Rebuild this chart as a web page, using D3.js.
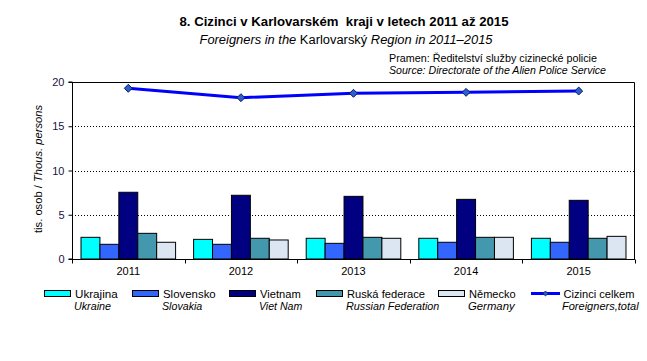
<!DOCTYPE html>
<html>
<head>
<meta charset="utf-8">
<script src="https://cdn.jsdelivr.net/npm/d3@7"></script>
<style>
  body { margin: 0; background: #fff; }
  text { font-family: "Liberation Sans", Arial, sans-serif; }
</style>
</head>
<body>
<div id="chart"></div>
<script>
// data (thousands of persons)
var years = ["2011", "2012", "2013", "2014", "2015"];
var ukrajina = [2.45, 2.22, 2.34, 2.34, 2.34];
var slovensko = [1.66, 1.66, 1.77, 1.89, 1.89];
var vietnam = [7.54, 7.2, 7.08, 6.74, 6.63];
var ruska = [2.9, 2.34, 2.45, 2.45, 2.34];
var nemecko = [1.89, 2.15, 2.34, 2.45, 2.56];
var celkem = [19.29, 18.23, 18.72, 18.83, 18.98];
var yTicks = [0, 5, 10, 15, 20];

var series = [
  {name: "Ukrajina", en: "Ukraine", values: ukrajina, color: "#00ffff"},
  {name: "Slovensko", en: "Slovakia", values: slovensko, color: "#3366ff"},
  {name: "Vietnam", en: "Viet Nam", values: vietnam, color: "#000080"},
  {name: "Ruská federace", en: "Russian Federation", values: ruska, color: "#4398ae"},
  {name: "Německo", en: "Germany", values: nemecko, color: "#dce6f2"}
];

var W = 647, H = 361;
var margin = {top: 82, right: 12, bottom: 102, left: 72};
var width = W - margin.left - margin.right,
    height = H - margin.top - margin.bottom;

var svg = d3.select("#chart").append("svg")
  .attr("width", W).attr("height", H);

// titles
svg.append("text")
  .attr("x", 344).attr("y", 26)
  .attr("text-anchor", "middle")
  .attr("textLength", 329).attr("lengthAdjust", "spacingAndGlyphs")
  .style("font-size", "13px").style("font-weight", "bold")
  .attr("xml:space", "preserve")
  .text("8. Cizinci v Karlovarském  kraji v letech 2011 až 2015");

var sub = svg.append("text")
  .attr("x", 346).attr("y", 44)
  .attr("text-anchor", "middle")
  .attr("textLength", 293).attr("lengthAdjust", "spacingAndGlyphs")
  .style("font-size", "12.5px");
sub.append("tspan").style("font-style", "italic").text("Foreigners in the ");
sub.append("tspan").text("Karlovarský ");
sub.append("tspan").style("font-style", "italic").text("Region in 2011–2015");

svg.append("text")
  .attr("x", 389).attr("y", 62)
  .attr("textLength", 208).attr("lengthAdjust", "spacingAndGlyphs")
  .style("font-size", "10.5px")
  .text("Pramen: Ředitelství služby cizinecké policie");
svg.append("text")
  .attr("x", 389).attr("y", 74)
  .attr("textLength", 217).attr("lengthAdjust", "spacingAndGlyphs")
  .style("font-size", "10.5px").style("font-style", "italic")
  .text("Source: Directorate of the Alien Police Service");

var g = svg.append("g")
  .attr("transform", "translate(" + margin.left + "," + margin.top + ")");

var x0 = d3.scaleBand().domain(years).range([0, width]).paddingInner(0.16).paddingOuter(0.08);
var x1 = d3.scaleBand().domain(series.map(d => d.name)).range([0, x0.bandwidth()]);
var xc = d3.scaleBand().domain(years).range([0, width]);
var y = d3.scaleLinear().domain([0, 20]).range([height, 0]);

// dotted gridlines
g.selectAll(".grid")
  .data(yTicks.filter(d => d > 0 && d < 20))
  .join("line")
  .attr("x1", 0).attr("x2", width)
  .attr("y1", d => Math.round(y(d)) + 0.5).attr("y2", d => Math.round(y(d)) + 0.5)
  .attr("stroke", "#000").attr("stroke-width", 1)
  .attr("stroke-dasharray", "1,2");

// plot border (top and right)
g.append("path")
  .attr("d", "M0,0.5H" + (width - 0.5) + "V" + height)
  .attr("fill", "none").attr("stroke", "#000");

// bars
series.forEach(function (s) {
  g.append("g").selectAll("rect")
    .data(s.values)
    .join("rect")
    .attr("x", (d, i) => x0(years[i]) + x1(s.name))
    .attr("y", d => y(d))
    .attr("width", x1.bandwidth())
    .attr("height", d => height - y(d))
    .attr("fill", s.color)
    .attr("stroke", "#000").attr("stroke-width", 1);
});

// total line
var line = d3.line()
  .x((d, i) => xc(years[i]) + xc.bandwidth() / 2)
  .y(d => y(d));
g.append("path")
  .datum(celkem)
  .attr("d", line)
  .attr("fill", "none").attr("stroke", "#0000ff").attr("stroke-width", 3);
g.selectAll(".mk")
  .data(celkem)
  .join("path")
  .attr("transform", (d, i) => "translate(" + (xc(years[i]) + xc.bandwidth() / 2) + "," + y(d) + ")")
  .attr("d", d3.symbol(d3.symbolDiamond2, 40))
  .attr("fill", "#2d5fd0").attr("stroke", "#0a1a60").attr("stroke-width", 1);

// y axis
var yAxis = g.append("g")
  .attr("transform", "translate(0.5,0)")
  .call(d3.axisLeft(y).tickValues(yTicks).tickSize(4).tickPadding(4));
yAxis.select(".domain").attr("d", "M-4," + y(20) + "H0V" + y(0) + "H-4");
yAxis.selectAll("text").style("font-size", "11px").attr("fill", "#1a1240")
  .style("font-family", "'Liberation Sans', Arial, sans-serif");

// x axis with ticks between categories
var xAxis = g.append("g").attr("transform", "translate(0," + (height + 0.5) + ")");
xAxis.append("line").attr("x1", 0).attr("x2", width).attr("stroke", "#000");
xAxis.selectAll(".tk")
  .data(years.concat(["end"]))
  .join("line")
  .attr("x1", (d, i) => Math.round(i * xc.step()) + 0.5)
  .attr("x2", (d, i) => Math.round(i * xc.step()) + 0.5)
  .attr("y1", 0).attr("y2", 4).attr("stroke", "#000");
xAxis.selectAll(".lb")
  .data(years)
  .join("text")
  .attr("x", d => xc(d) + xc.bandwidth() / 2)
  .attr("y", 15.5)
  .attr("text-anchor", "middle")
  .style("font-size", "11px")
  .text(d => d);

// y label
var yl = svg.append("text")
  .attr("transform", "translate(41.5,169) rotate(-90)")
  .attr("text-anchor", "middle")
  .attr("textLength", 128).attr("lengthAdjust", "spacingAndGlyphs")
  .style("font-size", "11px");
yl.append("tspan").text("tis. osob / ");
yl.append("tspan").style("font-style", "italic").text("Thous. persons");

// legend
var legX = [44, 132, 229, 316, 438, 531];
var legW1 = [42.7, 52.7, 40.7, 78, 46.7, 71];
var legW2 = [37, 40.3, 43.3, 93.3, 46.6, 76.6];
var leg = svg.append("g");
series.forEach(function (s, i) {
  leg.append("rect")
    .attr("x", legX[i] + 0.5).attr("y", 290.5)
    .attr("width", 26).attr("height", 6)
    .attr("fill", s.color).attr("stroke", "#000");
  leg.append("text").attr("x", legX[i] + 31).attr("y", 297.5)
    .attr("textLength", legW1[i]).attr("lengthAdjust", "spacingAndGlyphs")
    .style("font-size", "11.5px").text(s.name);
  leg.append("text").attr("x", legX[i] + 30).attr("y", 310)
    .attr("textLength", legW2[i]).attr("lengthAdjust", "spacingAndGlyphs")
    .style("font-size", "11.5px").style("font-style", "italic").text(s.en);
});
leg.append("line")
  .attr("x1", legX[5]).attr("x2", legX[5] + 29)
  .attr("y1", 293.5).attr("y2", 293.5)
  .attr("stroke", "#0000ff").attr("stroke-width", 3);
leg.append("path")
  .attr("transform", "translate(" + (legX[5] + 14.5) + ",293.5)")
  .attr("d", d3.symbol(d3.symbolDiamond2, 16))
  .attr("fill", "#2d5fd0").attr("stroke", "#0a1a60").attr("stroke-width", 0.8);
leg.append("text").attr("x", legX[5] + 32.5).attr("y", 297.5)
  .attr("textLength", legW1[5]).attr("lengthAdjust", "spacingAndGlyphs")
  .style("font-size", "11.5px").text("Cizinci celkem");
leg.append("text").attr("x", legX[5] + 31).attr("y", 310)
  .attr("textLength", legW2[5]).attr("lengthAdjust", "spacingAndGlyphs")
  .style("font-size", "11.5px").style("font-style", "italic").text("Foreigners,total");
</script>
</body>
</html>
